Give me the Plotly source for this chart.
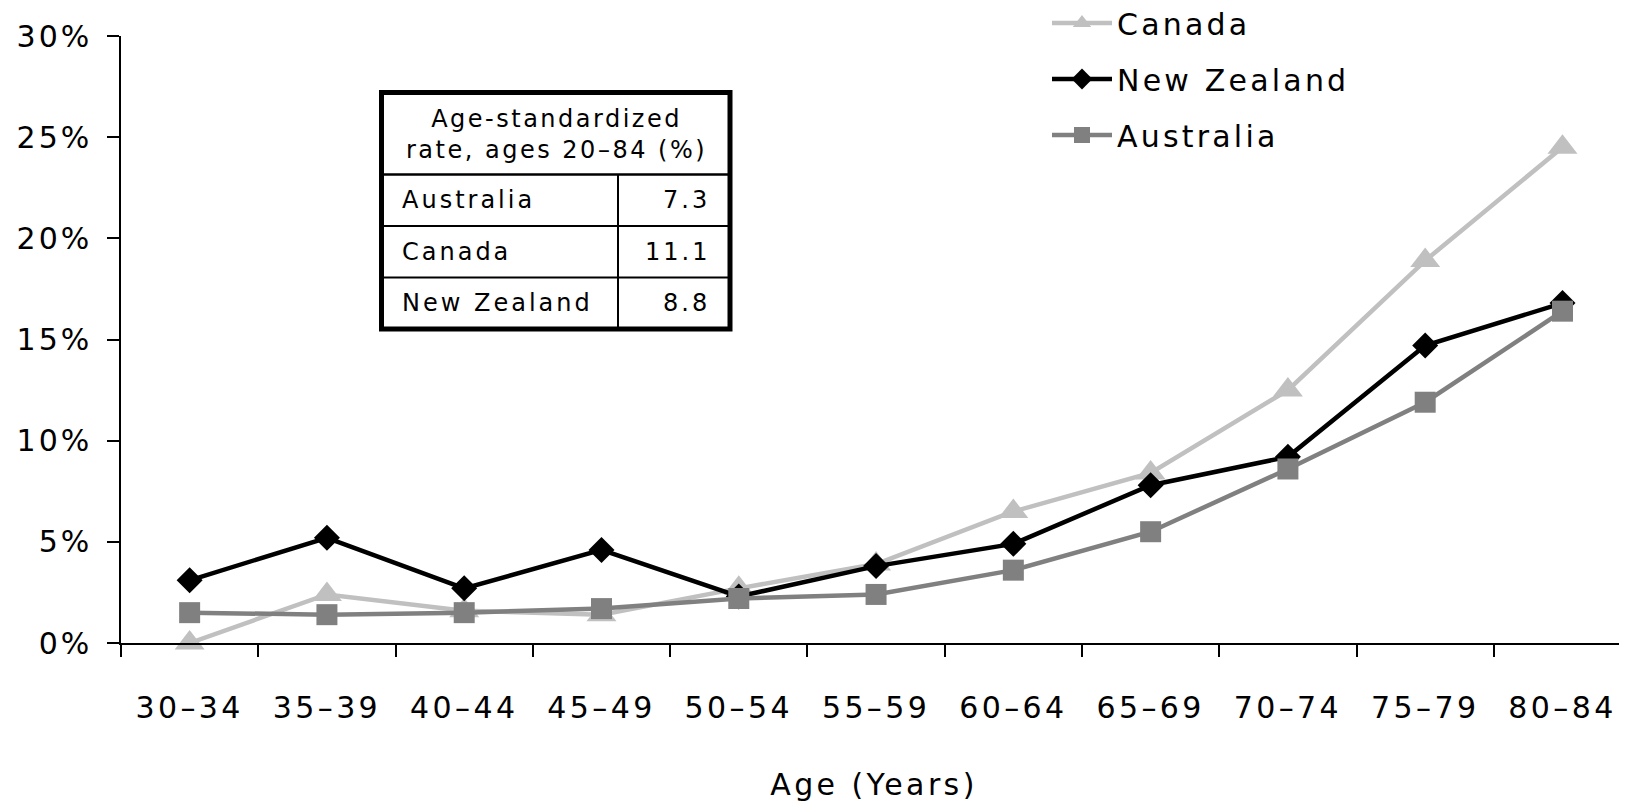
import plotly.graph_objects as go

# ---------------- data ----------------
age_groups = ["30–34", "35–39", "40–44", "45–49", "50–54", "55–59",
              "60–64", "65–69", "70–74", "75–79", "80–84"]
canada = [0.0, 2.4, 1.6, 1.4, 2.7, 3.9, 6.5, 8.4, 12.5, 18.9, 24.5]
new_zealand = [3.1, 5.2, 2.7, 4.6, 2.3, 3.8, 4.9, 7.8, 9.2, 14.7, 16.8]
australia = [1.5, 1.4, 1.5, 1.7, 2.2, 2.4, 3.6, 5.5, 8.6, 11.9, 16.4]
y_ticks = [0, 5, 10, 15, 20, 25, 30]

table_header = ["Age-standardized", "rate, ages 20–84 (%)"]
table_countries = ["Australia", "Canada", "New Zealand"]
table_rates = ["7.3", "11.1", "8.8"]

# ---------------- layout constants ----------------
OFF = 8                      # page body margin
W, H = 1627 - OFF, 802 - OFF
ML, MR, MT, MB = 113, 0, 28, 159
PW, PH = W - ML - MR, H - MT - MB
FONT = "DejaVu Sans"


def sp(t, px=3):
    return f'<span style="letter-spacing:{px}px">{t}</span>'


def fx(px):  # page pixel -> paper x
    return (px - OFF - ML) / PW


def fy(py):  # page pixel -> paper y
    return 1 - (py - OFF - MT) / PH


fig = go.Figure()

series = [
    ("Canada", canada, "#c0c0c0", "triangle-up", 26),
    ("New Zealand", new_zealand, "#000000", "diamond", 20),
    ("Australia", australia, "#808080", "square", 21),
]
for name, vals, col, sym, size in series:
    fig.add_trace(go.Scatter(
        x=age_groups, y=vals, name=sp(name, 3.2), legendgroup=name,
        mode="lines+markers",
        line=dict(color=col, width=4.5),
        marker=dict(color=col, symbol=sym, size=size, line=dict(width=0)),
        cliponaxis=False,
    ))

# ---------------- inset table ----------------
tb_left, tb_right, tb_top, tb_bottom = 381.5, 730, 92.5, 329
tb_rows = [174.5, 226, 277.5, 329]
tb_col = 618
shapes = [
    dict(type="rect", xref="paper", yref="paper",
         x0=fx(tb_left), x1=fx(tb_right), y0=fy(tb_top), y1=fy(tb_bottom),
         line=dict(color="black", width=5), fillcolor="white", layer="above"),
    dict(type="line", xref="paper", yref="paper",
         x0=fx(tb_left), x1=fx(tb_right), y0=fy(tb_rows[0]), y1=fy(tb_rows[0]),
         line=dict(color="black", width=2.5)),
]
for r in tb_rows[1:3]:
    shapes.append(dict(type="line", xref="paper", yref="paper",
                       x0=fx(tb_left), x1=fx(tb_right), y0=fy(r), y1=fy(r),
                       line=dict(color="black", width=2)))
shapes.append(dict(type="line", xref="paper", yref="paper",
                   x0=fx(tb_col), x1=fx(tb_col), y0=fy(tb_rows[0]), y1=fy(tb_bottom),
                   line=dict(color="black", width=2)))

annotations = [
    dict(xref="paper", yref="paper", x=fx(556), y=fy(135),
         text="<br>".join(sp(t, 2.5) for t in table_header),
         showarrow=False, xanchor="center", yanchor="middle",
         font=dict(family=FONT, size=24, color="black")),
]
for i, (c, v) in enumerate(zip(table_countries, table_rates)):
    yc = (tb_rows[i] + tb_rows[i + 1]) / 2
    annotations.append(dict(xref="paper", yref="paper", x=fx(400), y=fy(yc),
                            text=sp(c, 3), showarrow=False,
                            xanchor="left", yanchor="middle",
                            font=dict(family=FONT, size=24, color="black")))
    annotations.append(dict(xref="paper", yref="paper", x=fx(712), y=fy(yc),
                            text=sp(v, 3), showarrow=False,
                            xanchor="right", yanchor="middle",
                            font=dict(family=FONT, size=24, color="black")))

fig.update_layout(
    width=W, height=H,
    margin=dict(l=ML, r=MR, t=MT, b=MB, autoexpand=False),
    paper_bgcolor="white", plot_bgcolor="white",
    font=dict(family=FONT, size=30, color="black"),
    showlegend=True,
    legend=dict(x=fx(1047), y=1 + (MT + 11) / PH, xanchor="left", yanchor="top",
                font=dict(family=FONT, size=30, color="black"),
                bgcolor="rgba(0,0,0,0)", tracegroupgap=14, itemwidth=60,
                traceorder="grouped"),
    shapes=shapes,
    annotations=annotations,
)

fig.update_xaxes(
    type="category", tickmode="array", tickvals=age_groups,
    ticktext=[sp(a, 3.4) for a in age_groups],
    range=[-0.5, 10.47], tickson="boundaries",
    ticks="outside", ticklen=12, tickwidth=1.5, tickcolor="black",
    showline=True, linecolor="black", linewidth=1.5,
    showgrid=False, zeroline=False, ticklabelstandoff=37,
    tickfont=dict(family=FONT, size=30, color="black"),
    title=dict(text=sp("Age (Years)", 3.4), standoff=52,
               font=dict(family=FONT, size=30, color="black")),
    automargin=False,
)
fig.update_yaxes(
    range=[0, 30], tickmode="array", tickvals=y_ticks,
    ticktext=[sp(f"{v}%", 3) for v in y_ticks],
    ticks="outside", ticklen=12, tickwidth=1.5, tickcolor="black",
    showline=True, linecolor="black", linewidth=1.5,
    showgrid=False, zeroline=False, ticklabelstandoff=9,
    tickfont=dict(family=FONT, size=30, color="black"),
    automargin=False,
)

fig.write_html("out.html")
